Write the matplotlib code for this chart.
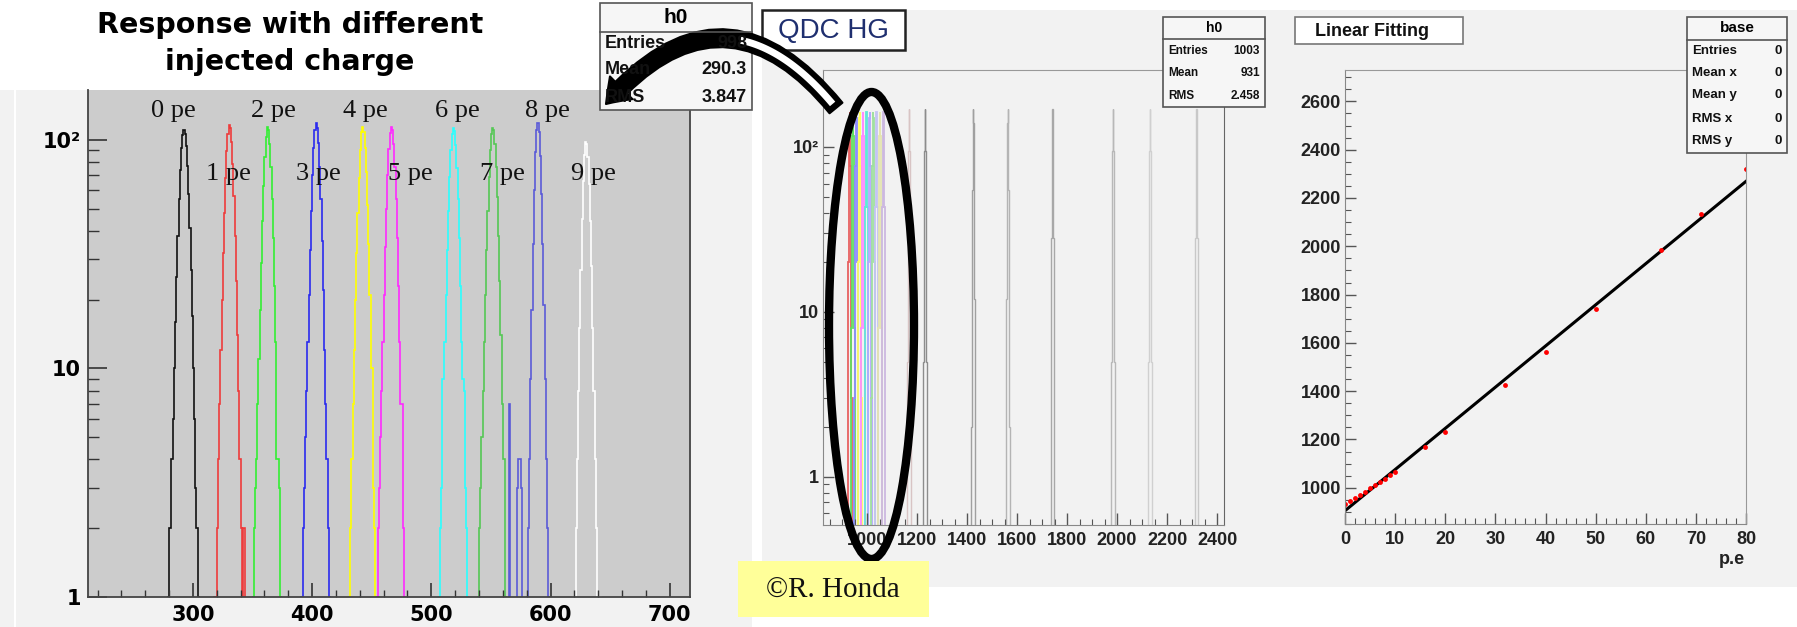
import matplotlib
matplotlib.use("Agg")
import matplotlib.pyplot as plt
import numpy as np
from matplotlib.patches import Rectangle, Ellipse, FancyArrowPatch, ArrowStyle
from matplotlib.ticker import MultipleLocator, FixedLocator, FixedFormatter, NullFormatter, LogLocator

# ---------------- data ----------------
# Left plot: QDC response histograms for 0..9 injected photo-electrons (bin width 1)
pe_names = ["0 pe", "1 pe", "2 pe", "3 pe", "4 pe", "5 pe", "6 pe", "7 pe", "8 pe", "9 pe"]
pe_starts = [279, 318, 350, 391, 430, 454, 506, 539, 565, 619]
pe0_counts = [1, 2, 2, 4, 6, 10, 16, 25, 38, 55, 74, 92, 105, 110, 106, 94, 77, 58, 41, 27, 17, 10, 6, 3, 2, 1]
pe1_counts = [1, 1, 2, 4, 7, 12, 20, 32, 48, 68, 89, 106, 116, 112, 98, 78, 57, 38, 24, 14, 8, 4, 2, 0, 2, 2]
pe2_counts = [1, 2, 3, 4, 7, 11, 18, 29, 44, 63, 84, 103, 114, 110, 96, 76, 55, 37, 23, 13, 4, 4, 3, 1]
pe3_counts = [1, 2, 3, 5, 8, 13, 21, 33, 49, 70, 92, 110, 118, 113, 97, 76, 55, 36, 22, 12, 7, 4, 2, 1]
pe4_counts = [1, 1, 2, 4, 7, 12, 20, 32, 48, 68, 90, 108, 114, 108, 92, 72, 52, 35, 21, 10, 10, 3, 2, 1]
pe5_counts = [1, 2, 3, 5, 8, 13, 21, 34, 50, 70, 91, 107, 114, 110, 96, 76, 55, 37, 23, 13, 7, 7, 2, 1]
pe6_counts = [1, 2, 3, 9, 9, 13, 21, 33, 49, 69, 90, 106, 113, 109, 95, 75, 55, 37, 23, 13, 9, 8, 3, 2, 1]
pe7_counts = [1, 2, 3, 5, 8, 13, 21, 33, 49, 69, 90, 106, 113, 110, 96, 76, 56, 38, 24, 14, 7, 4, 4, 1]
pe8_counts = [7, 0, 0, 0, 0, 0, 0, 3, 4, 4, 3, 0, 0, 0, 0, 1, 2, 4, 9, 18, 35, 60, 88, 110,
              118, 108, 85, 58, 35, 19, 9, 4, 2, 1]
pe9_counts = [1, 1, 2, 4, 8, 15, 27, 45, 66, 86, 98, 96, 84, 64, 44, 28, 15, 8, 4, 2, 1, 1, 1]
pe_counts = [pe0_counts, pe1_counts, pe2_counts, pe3_counts, pe4_counts,
             pe5_counts, pe6_counts, pe7_counts, pe8_counts, pe9_counts]
pe_colors = ["#111111", "#ee3b3b", "#33ee33", "#2a2aee", "#ffff00",
             "#ff2aff", "#2affff", "#55c855", "#5a5ad8", "#ffffff"]

# Middle plot: QDC HG peak positions
mid_low_pe = [0, 1, 2, 3, 4, 5, 6, 7, 8, 9, 10]
mid_low_means = [931, 944, 957, 971, 984, 998, 1011, 1025, 1038, 1052, 1066]
mid_high_pe = [16, 20, 32, 40, 50, 63, 71, 80]
mid_high_means = [1168, 1232, 1425, 1563, 1742, 1984, 2132, 2318]
mid_low_profile = [3, 8, 20, 43, 77, 117, 149, 163, 149, 117, 77, 43, 20, 8, 3]
mid_high_profile = [2, 5, 12, 28, 55, 95, 140, 170, 140, 95, 55, 28, 12, 5, 2]
mid_low_colors = ["#e86060", "#60e060", "#8c8cff", "#ffff60", "#ff8cff", "#60e8d8",
                  "#b4a8ff", "#a0e0a0", "#c4c4f4", "#e4e4b0", "#ccb8e0"]
mid_high_colors = ["#d8c4c4", "#8c8c8c", "#a0a0a0", "#b4b4b4", "#a8a8a8",
                   "#b8b8b8", "#d0d0d0", "#c8c8c8"]

# Right plot: linear fitting
fit_intercept = 905
fit_slope = 17.05

# stats boxes
h0_left_rows = [("Entries", "998"), ("Mean", "290.3"), ("RMS", "3.847")]
h0_mid_rows = [("Entries", "1003"), ("Mean", "931"), ("RMS", "2.458")]
base_rows = [("Entries", "0"), ("Mean x", "0"), ("Mean y", "0"), ("RMS x", "0"), ("RMS y", "0")]

# ---------------- layout ----------------
W, H = 1797, 627


def rect(x0, y0, x1, y1):
    return [x0 / W, 1 - y1 / H, (x1 - x0) / W, (y1 - y0) / H]


fig = plt.figure(figsize=(W / 100, H / 100), dpi=100)
fig.patch.set_facecolor("white")

bg = fig.add_axes([0, 0, 1, 1], zorder=0)
bg.set_xlim(0, W)
bg.set_ylim(H, 0)
bg.axis("off")
bg.add_patch(Rectangle((0, 90), 752, 537, fc="#f2f2f2", ec="none"))
bg.plot([15, 15], [90, 627], color="white", lw=1.5)
bg.add_patch(Rectangle((762, 10), 1035, 577, fc="#f2f2f2", ec="none"))
bg.text(290, 25, "Response with different", ha="center", va="center",
        fontsize=20.5, fontweight="bold", family="DejaVu Sans")
bg.text(290, 62, "injected charge", ha="center", va="center",
        fontsize=20.5, fontweight="bold", family="DejaVu Sans")

# ---------------- left plot ----------------
axL = fig.add_axes(rect(88, 90, 690, 597), zorder=1)
axL.set_facecolor("#cccccc")
for start, counts, col in zip(pe_starts, pe_counts, pe_colors):
    edges = np.arange(start, start + len(counts) + 1)
    axL.stairs(counts, edges, color=col, lw=1.2, baseline=1e-3)
axL.set_yscale("log")
axL.set_xlim(212, 717)
axL.set_ylim(1, 165)
axL.yaxis.set_major_locator(FixedLocator([1, 10, 100]))
axL.yaxis.set_major_formatter(FixedFormatter(["1", "10", "10²"]))
axL.yaxis.set_minor_locator(LogLocator(base=10, subs=np.arange(2, 10)))
axL.yaxis.set_minor_formatter(NullFormatter())
axL.xaxis.set_major_locator(MultipleLocator(100))
axL.xaxis.set_minor_locator(MultipleLocator(20))
axL.tick_params(axis="y", which="major", direction="in", length=14, width=1.2, color="#333333", pad=5)
axL.tick_params(axis="y", which="minor", direction="in", length=8, width=1.0, color="#333333")
axL.tick_params(axis="x", which="major", direction="in", length=10, width=1.2, color="#333333", pad=6)
axL.tick_params(axis="x", which="minor", direction="in", length=5, width=1.0, color="#333333")
for lab in axL.get_xticklabels() + axL.get_yticklabels():
    lab.set_fontsize(15)
    lab.set_fontweight("bold")
    lab.set_family("DejaVu Sans")
axL.spines["top"].set_visible(False)
for s in ["left", "bottom", "right"]:
    axL.spines[s].set_color("#444444")
    axL.spines[s].set_linewidth(1.3)

# ---------------- middle plot ----------------
axM = fig.add_axes(rect(823, 70, 1224, 525), zorder=1)
axM.set_facecolor("none")
for m, col in zip(mid_high_means, mid_high_colors):
    edges = np.arange(len(mid_high_profile) + 1) + m - len(mid_high_profile) / 2
    axM.stairs(mid_high_profile, edges, color=col, lw=1.0, baseline=1e-3)
for m, col in zip(mid_low_means, mid_low_colors):
    edges = np.arange(len(mid_low_profile) + 1) + m - len(mid_low_profile) / 2
    axM.stairs(mid_low_profile, edges, color=col, lw=1.3, baseline=1e-3)
axM.set_yscale("log")
axM.set_xlim(824, 2428)
axM.set_ylim(0.51, 293)
axM.yaxis.set_major_locator(FixedLocator([1, 10, 100]))
axM.yaxis.set_major_formatter(FixedFormatter(["1", "10", "10²"]))
axM.yaxis.set_minor_locator(LogLocator(base=10, subs=np.arange(2, 10)))
axM.yaxis.set_minor_formatter(NullFormatter())
axM.xaxis.set_major_locator(MultipleLocator(200))
axM.xaxis.set_minor_locator(MultipleLocator(50))
axM.tick_params(axis="y", which="major", direction="in", length=8, width=1.0, color="#555555", pad=3)
axM.tick_params(axis="y", which="minor", direction="in", length=4, width=0.8, color="#555555")
axM.tick_params(axis="x", which="major", direction="in", length=9, width=1.0, color="#555555", pad=5)
axM.tick_params(axis="x", which="minor", direction="in", length=4, width=0.8, color="#555555")
for lab in axM.get_xticklabels() + axM.get_yticklabels():
    lab.set_fontsize(13)
    lab.set_fontweight("bold")
    lab.set_family("Liberation Sans")
    lab.set_color("#222222")
axM.spines["top"].set_color("#999999")
axM.spines["right"].set_color("#666666")
axM.spines["left"].set_color("#888888")
axM.spines["bottom"].set_color("#888888")

# ---------------- right plot ----------------
axR = fig.add_axes(rect(1345, 70, 1746, 524), zorder=1)
axR.set_facecolor("none")
xfit = np.array([0, 80])
axR.plot(xfit, fit_intercept + fit_slope * xfit, color="black", lw=2.2)
axR.plot(mid_low_pe + mid_high_pe, mid_low_means + mid_high_means, "o",
         color="red", ms=3.5, mec="none")
axR.set_xlim(0, 80)
axR.set_ylim(850, 2730)
axR.xaxis.set_major_locator(MultipleLocator(10))
axR.xaxis.set_minor_locator(MultipleLocator(2))
axR.yaxis.set_major_locator(MultipleLocator(200))
axR.yaxis.set_minor_locator(MultipleLocator(50))
axR.tick_params(axis="both", which="major", direction="in", length=8, width=1.0, color="#555555", pad=5)
axR.tick_params(axis="both", which="minor", direction="in", length=4, width=0.8, color="#555555")
axR.tick_params(axis="y", pad=3)
for lab in axR.get_xticklabels() + axR.get_yticklabels():
    lab.set_fontsize(13)
    lab.set_fontweight("bold")
    lab.set_family("Liberation Sans")
    lab.set_color("#222222")
for s in ["top", "right"]:
    axR.spines[s].set_color("#999999")
for s in ["left", "bottom"]:
    axR.spines[s].set_color("#888888")

# ---------------- overlay ----------------
ov = fig.add_axes([0, 0, 1, 1], zorder=10)
ov.set_xlim(0, W)
ov.set_ylim(H, 0)
ov.axis("off")
ov.patch.set_alpha(0)

# pe labels on left plot
label_pos = [(173, 117), (228, 180), (273, 117), (318, 180), (365, 117),
             (410, 180), (457, 117), (502, 180), (547, 117), (593, 180)]
for name, (x, y) in zip(pe_names, label_pos):
    ov.text(x, y, name, ha="center", va="baseline", fontsize=19,
            family="Liberation Serif", color="#111111")


def stats_box(x0, y0, x1, y1, title_h, title, rows, fs_title, fs_row, row_ys):
    ov.add_patch(Rectangle((x0, y0), x1 - x0, y1 - y0, fc="#f6f6f6", ec="#555555", lw=1.2))
    ov.plot([x0, x1], [y0 + title_h, y0 + title_h], color="#555555", lw=1.2)
    ov.text((x0 + x1) / 2, y0 + title_h / 2, title, ha="center", va="center",
            fontsize=fs_title, fontweight="bold", family="Liberation Sans")
    for (k, v), yy in zip(rows, row_ys):
        ov.text(x0 + 5, yy, k, ha="left", va="center", fontsize=fs_row,
                fontweight="bold", family="Liberation Sans", color="#111111")
        ov.text(x1 - 5, yy, v, ha="right", va="center", fontsize=fs_row,
                fontweight="bold", family="Liberation Sans", color="#111111")


stats_box(600, 3, 752, 110, 29, "h0", h0_left_rows, 15, 13, [43, 70, 97])
stats_box(1163, 17, 1265, 107, 22, "h0", h0_mid_rows, 10, 8.5, [51, 73, 96])
stats_box(1687, 17, 1787, 153, 23, "base", base_rows, 11, 9.5, [51, 73, 95, 119, 141])

# title boxes
ov.add_patch(Rectangle((762, 10), 143, 40, fc="white", ec="#222222", lw=1.8))
ov.text(833, 31, "QDC HG", ha="center", va="center", fontsize=20,
        family="Liberation Sans", color="#1f2f6f")
ov.add_patch(Rectangle((1295, 17), 168, 27, fc="white", ec="#777777", lw=1.2))
ov.text(1372, 31, "Linear Fitting", ha="center", va="center", fontsize=13,
        fontweight="bold", family="Liberation Sans", color="#111111")

# curved arrow (solid black band with a hollow stretch near its tail)
A = (836, 108)
B = (606, 104)
rad = 0.59
arrow = FancyArrowPatch(A, B, connectionstyle=f"arc3,rad={rad}",
                        arrowstyle=ArrowStyle.Simple(head_length=0.8, head_width=1.15, tail_width=0.6),
                        mutation_scale=20, fc="black", ec="black", lw=1.5, shrinkA=0, shrinkB=0)
ov.add_patch(arrow)
# inner white stripe following the same quadratic curve (display coords: y up)
ax_d, ay_d = A[0], H - A[1]
bx_d, by_d = B[0], H - B[1]
mx, my = (ax_d + bx_d) / 2, (ay_d + by_d) / 2
cx, cy = mx + rad * (by_d - ay_d), my - rad * (bx_d - ax_d)
t = np.linspace(0.015, 0.42, 60)
qx = (1 - t) ** 2 * ax_d + 2 * (1 - t) * t * cx + t ** 2 * bx_d
qy = (1 - t) ** 2 * ay_d + 2 * (1 - t) * t * cy + t ** 2 * by_d
ov.plot(qx, H - qy, color="white", lw=5, solid_capstyle="butt")

# ellipse
ov.add_patch(Ellipse((871.5, 325.5), 85, 467, fill=False, ec="black", lw=6))

# credit box
ov.add_patch(Rectangle((738, 561), 191, 56, fc="#ffff99", ec="none"))
ov.text(833, 590, "©R. Honda", ha="center", va="center", fontsize=21,
        family="Liberation Serif", color="#111111")

# axis label on right plot
ov.text(1732, 560, "p.e", ha="center", va="center", fontsize=13,
        fontweight="bold", family="Liberation Sans", color="#222222")

fig.savefig("out.png", dpi=100)
